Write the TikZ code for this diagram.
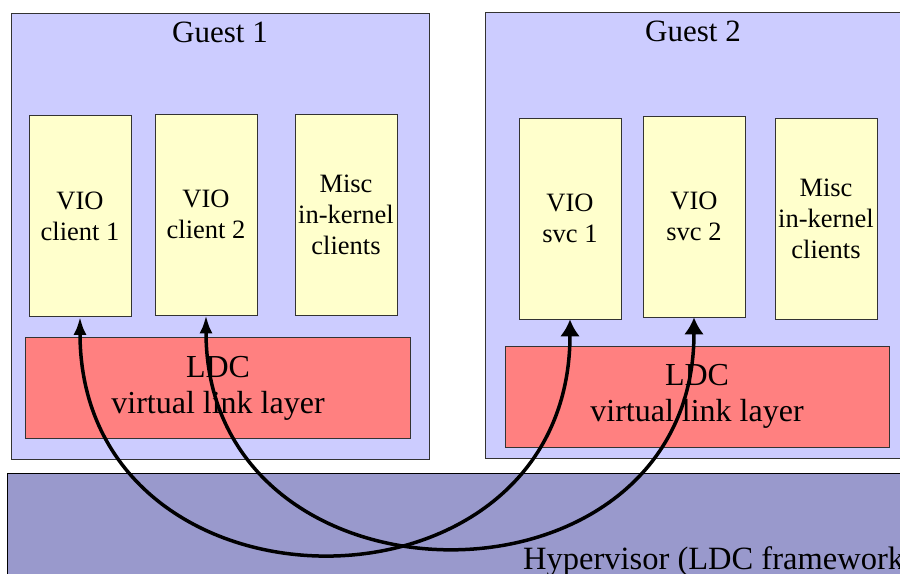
\documentclass[tikz,border=0pt]{standalone}
\usepackage{fontspec}
\setmainfont{Liberation Serif}
\usetikzlibrary{arrows.meta}

\definecolor{guestfill}{HTML}{CCCCFF}
\definecolor{compfill}{HTML}{FFFFCC}
\definecolor{ldcfill}{HTML}{FF8080}
\definecolor{hyperfill}{HTML}{9999CC}
\definecolor{edge}{HTML}{333333}

\tikzset{
  guest/.style={draw=edge,fill=guestfill,inner sep=0pt,line width=0.8bp},
  comp/.style={draw=edge,fill=compfill,inner sep=0pt,line width=0.8bp,
    minimum width=102bp,minimum height=201bp,align=center,
    font=\fontsize{26.5bp}{31bp}\selectfont},
  ldc/.style={draw=edge,fill=ldcfill,inner sep=0pt,line width=0.8bp,
    minimum width=385bp,minimum height=101bp,align=center,
    font=\fontsize{32bp}{36bp}\selectfont},
  title/.style={anchor=base,inner sep=0pt,font=\fontsize{31bp}{36bp}\selectfont},
  link/.style={line width=3.5bp,
    {Latex[length=18bp,width=13bp]}-{Latex[length=17bp,width=20bp]}}
}

\begin{document}
\begin{tikzpicture}[x=1bp,y=-1bp]
        \clip (0,0) rectangle (900,574);
        \fill[white] (0,0) rectangle (900,574);

        \node[guest,minimum width=418bp,minimum height=446bp] (G1) at (220,236) {};
        \node[guest,minimum width=417bp,minimum height=446bp] (G2) at (693.5,235) {};
        \node[guest,draw=black,fill=hyperfill,minimum width=940bp,minimum height=140bp] (HV) at (477,543) {};

        \node[title] (G1t) at (220,43) {Guest 1};
        \node[title] (G2t) at (693,42) {Guest 2};
        \node[title,anchor=base west,font=\fontsize{32.5bp}{36bp}\selectfont] (HVt) at (523,569) {Hypervisor (LDC framework)};

        \node[comp] (C1) at (80,216) {VIO\\client 1};
        \node[comp] (C2) at (206,214.5) {VIO\\client 2};
        \node[comp] (M1) at (346,214.5) {Misc\\in-kernel\\clients};

        \node[comp] (S1) at (570,218.5) {VIO\\svc 1};
        \node[comp] (S2) at (694,216.5) {VIO\\svc 2};
        \node[comp] (M2) at (826,218.5) {Misc\\in-kernel\\clients};

        \node[ldc] (L1) at (218,388) {LDC\\virtual link layer};
        \node[ldc,minimum width=384bp] (L2) at (697,396.5) {LDC\\virtual link layer};

        \draw[link] (C1.south) .. controls +(0,312) and +(0,312) .. (S1.south);
        \draw[link] (C2.south) .. controls +(0,306) and +(0,306) .. (S2.south);
      \end{tikzpicture}
\end{document}
